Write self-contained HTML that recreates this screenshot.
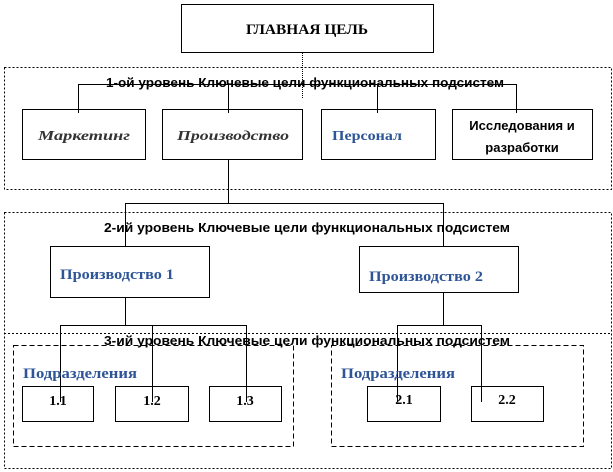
<!DOCTYPE html>
<html><head><meta charset="utf-8"><style>
html,body{margin:0;padding:0;background:#fff;}
svg{display:block;}
.s{font-family:"Liberation Sans","DejaVu Sans",sans-serif;font-weight:bold;}
.r{font-family:"Liberation Serif","DejaVu Serif",serif;font-weight:bold;}
</style></head><body>
<svg width="613" height="472" viewBox="0 0 613 472" xmlns="http://www.w3.org/2000/svg">
<g fill="none" stroke="#000" stroke-width="1">
<rect x="4.5" y="67.5" width="607" height="122" stroke-dasharray="2,2"/>
<rect x="4.5" y="212.5" width="607" height="256" stroke-dasharray="2,2"/>
<line x1="4" y1="333.5" x2="612" y2="333.5" stroke-dasharray="2,2"/>
<rect x="13.5" y="345.5" width="280" height="101" stroke-dasharray="5,3"/>
<rect x="331.5" y="345.5" width="252" height="101" stroke-dasharray="5,3"/>
<line x1="302.5" y1="53" x2="302.5" y2="98" stroke-dasharray="1,1"/>
<line x1="78.5" y1="84.5" x2="516.5" y2="84.5"/>
<line x1="78.5" y1="84" x2="78.5" y2="109"/>
<line x1="228.5" y1="84" x2="228.5" y2="109"/>
<line x1="377.5" y1="84" x2="377.5" y2="109"/>
<line x1="516.5" y1="84" x2="516.5" y2="109"/>
<line x1="228.5" y1="159" x2="228.5" y2="203"/>
<line x1="125.5" y1="203.5" x2="443.5" y2="203.5"/>
<line x1="125.5" y1="203" x2="125.5" y2="260"/>
<line x1="443.5" y1="203" x2="443.5" y2="256"/>
<line x1="125.5" y1="288" x2="125.5" y2="325"/>
<line x1="60.5" y1="325.5" x2="246.5" y2="325.5"/>
<line x1="60.5" y1="325" x2="60.5" y2="402"/>
<line x1="152.5" y1="325" x2="152.5" y2="402"/>
<line x1="246.5" y1="325" x2="246.5" y2="402"/>
<line x1="443.5" y1="288" x2="443.5" y2="325"/>
<line x1="397.5" y1="325.5" x2="481.5" y2="325.5"/>
<line x1="397.5" y1="325" x2="397.5" y2="402"/>
<line x1="481.5" y1="325" x2="481.5" y2="402"/>
</g>
<g fill="#fff" stroke="#000" stroke-width="1">
<rect x="181.5" y="4.5" width="252" height="48"/>
<rect x="22.5" y="109.5" width="123" height="50"/>
<rect x="162.5" y="109.5" width="140" height="50"/>
<rect x="321.5" y="109.5" width="114" height="50"/>
<rect x="452.5" y="109.5" width="140" height="50"/>
<rect x="50.5" y="246.5" width="159" height="51"/>
<rect x="359.5" y="246.5" width="159" height="46"/>
<rect x="22.5" y="386.5" width="71" height="35"/>
<rect x="115.5" y="386.5" width="73" height="35"/>
<rect x="209.5" y="386.5" width="72" height="35"/>
<rect x="367.5" y="386.5" width="73" height="35"/>
<rect x="471.5" y="386.5" width="72" height="35"/>
</g>
<g stroke="#000">
<line x1="78.5" y1="109" x2="78.5" y2="113"/>
<line x1="228.5" y1="109" x2="228.5" y2="113"/>
<line x1="377.5" y1="109" x2="377.5" y2="113"/>
<line x1="516.5" y1="109" x2="516.5" y2="113"/>
<line x1="60.5" y1="386" x2="60.5" y2="402"/>
<line x1="152.5" y1="386" x2="152.5" y2="402"/>
<line x1="246.5" y1="386" x2="246.5" y2="402"/>
<line x1="397.5" y1="386" x2="397.5" y2="402"/>
<line x1="481.5" y1="386" x2="481.5" y2="402"/>
</g>
<text x="246" y="34" class="r" font-size="15" textLength="122" lengthAdjust="spacingAndGlyphs">ГЛАВНАЯ ЦЕЛЬ</text>
<g class="s" font-size="13">
<text x="106" y="87" textLength="398" lengthAdjust="spacingAndGlyphs">1-ой уровень Ключевые цели функциональных подсистем</text>
<text x="104" y="232" textLength="406" lengthAdjust="spacingAndGlyphs">2-ий уровень Ключевые цели функциональных подсистем</text>
<text x="104" y="345" textLength="406" lengthAdjust="spacingAndGlyphs">3-ий уровень Ключевые цели функциональных подсистем</text>
</g>
<text x="38" y="140" class="r" font-size="14" font-style="italic" fill="#333" textLength="92" lengthAdjust="spacingAndGlyphs">Маркетинг</text>
<text x="177" y="140" class="r" font-size="14" font-style="italic" fill="#333" textLength="112" lengthAdjust="spacingAndGlyphs">Производство</text>
<text x="332" y="140" class="r" font-size="14" fill="#2e5597" textLength="70" lengthAdjust="spacingAndGlyphs">Персонал</text>
<text x="522" y="130" class="s" font-size="13" font-weight="normal" text-anchor="middle">Исследования и</text>
<text x="522" y="152" class="s" font-size="13" font-weight="normal" text-anchor="middle">разработки</text>
<text x="60" y="279" class="r" font-size="15" fill="#2e5597" textLength="114" lengthAdjust="spacingAndGlyphs">Производство 1</text>
<text x="369" y="281" class="r" font-size="15" fill="#2e5597" textLength="114" lengthAdjust="spacingAndGlyphs">Производство 2</text>
<text x="23" y="378" class="r" font-size="15" fill="#2e5597" textLength="114" lengthAdjust="spacingAndGlyphs">Подразделения</text>
<text x="341" y="378" class="r" font-size="15" fill="#2e5597" textLength="114" lengthAdjust="spacingAndGlyphs">Подразделения</text>
<g class="r" font-size="14" text-anchor="middle">
<text x="58" y="405">1.1</text>
<text x="152" y="405">1.2</text>
<text x="245" y="405">1.3</text>
<text x="404" y="404">2.1</text>
<text x="507" y="404">2.2</text>
</g>
</svg>
</body></html>
